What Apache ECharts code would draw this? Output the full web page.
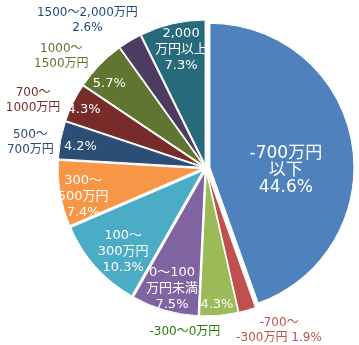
<!DOCTYPE html>
<html><head><meta charset="utf-8">
<script src="https://cdn.jsdelivr.net/npm/echarts@6/dist/echarts.min.js"></script>
<style>html,body{margin:0;padding:0;background:#fff}#c{width:359px;height:345px}</style>
</head><body><div id="c"></div>
<script>
// ---- data ----
const categories = ['-700万円以下','-700～-300万円','-300～0万円','0～100万円未満','100～300万円','300～500万円','500～700万円','700～1000万円','1000～1500万円','1500～2,000万円','2,000万円以上'];
const shares = [44.6, 1.9, 4.3, 7.5, 10.3, 7.4, 4.2, 4.3, 5.7, 2.6, 7.3];
// label name parts (inside the slice / outside the slice)
const insideNames = ['-700万円\n以下', '', '', '0～100\n万円未満', '100～\n300万円', '300～\n500万円', '', '', '', '', '2,000\n万円以上'];
const insidePct   = [true, false, true, true, true, true, true, true, true, false, true];
const outsideNames = ['', '-700～\n-300万円', '-300～0万円', '', '', '', '500～\n700万円', '700～\n1000万円', '1000～\n1500万円', '1500～2,000万円', ''];
const outsidePct   = ['', ' ', '', '', '', '', '', '', '', '\n', ''];

// ---- styles ----
const colors = ['#4F81BD','#C0504D','#9BBB59','#8064A2','#4BACC6','#F79646','#2C4D75','#772C2A','#5F7530','#4D3B62','#276A7C'];
const outsideColors = ['#000','#C0504D','#2A7A0E','#000','#000','#000','#2C4D75','#772C2A','#5F7530','#1F497D','#000'];
const insideNudge = [[2,16],[0,0],[4,58],[-12,45],[-24,31],[-45,15],[-48,-6],[-51,-24],[-40,-29],[0,0],[-7,-41]];
const outsideNudge = [[0,0],[51,87],[-28,85],[0,0],[0,0],[0,0],[-98,-11],[-102,-33],[-88,-57],[-78,-80],[0,0]];
const FONT = "'DejaVu Sans', 'Noto Sans CJK JP', sans-serif";
const CENTER = [206, 168], RADIUS = 144;

function pct(i){ return shares[i].toFixed(1) + '%'; }
function insideLabel(i){
  if (!insidePct[i]) return '';
  return insideNames[i] ? insideNames[i] + '\n' + pct(i) : pct(i);
}
function outsideLabel(i){
  if (!outsideNames[i]) return '';
  return outsideNames[i] + (outsidePct[i] ? outsidePct[i] + pct(i) : '');
}

const chart = echarts.init(document.getElementById('c'), null, {renderer: 'canvas'});
chart.setOption({
  animation: false,
  backgroundColor: '#fff',
  series: [{
    type: 'pie', center: CENTER, radius: RADIUS, startAngle: 90, clockwise: true,
    selectedMode: 'multiple', selectedOffset: 4, avoidLabelOverlap: false,
    itemStyle: {borderColor: '#fff', borderWidth: 1},
    emphasis: {disabled: true},
    label: {position: 'inside', align: 'center', color: '#fff', fontSize: 13, lineHeight: 16, fontFamily: FONT,
      formatter: p => insideLabel(p.dataIndex)},
    labelLine: {show: false},
    labelLayout: p => ({dx: insideNudge[p.dataIndex][0], dy: insideNudge[p.dataIndex][1], align: 'center'}),
    data: shares.map((v, i) => ({
      name: categories[i], value: v, selected: true,
      itemStyle: {color: colors[i]},
      label: i === 0 ? {fontSize: 17, lineHeight: 17} : {}
    }))
  }, {
    type: 'pie', center: CENTER, radius: RADIUS, startAngle: 90, clockwise: true, silent: true,
    selectedMode: 'multiple', selectedOffset: 4, avoidLabelOverlap: false,
    itemStyle: {color: 'rgba(0,0,0,0)', borderWidth: 0},
    emphasis: {disabled: true},
    label: {position: 'inside', align: 'center', fontSize: 12, lineHeight: 15, fontFamily: FONT,
      formatter: p => outsideLabel(p.dataIndex)},
    labelLine: {show: false},
    labelLayout: p => ({dx: outsideNudge[p.dataIndex][0], dy: outsideNudge[p.dataIndex][1], align: 'center'}),
    data: shares.map((v, i) => ({
      name: categories[i], value: v, selected: true,
      label: {color: outsideColors[i]}
    }))
  }]
});
</script></body></html>
